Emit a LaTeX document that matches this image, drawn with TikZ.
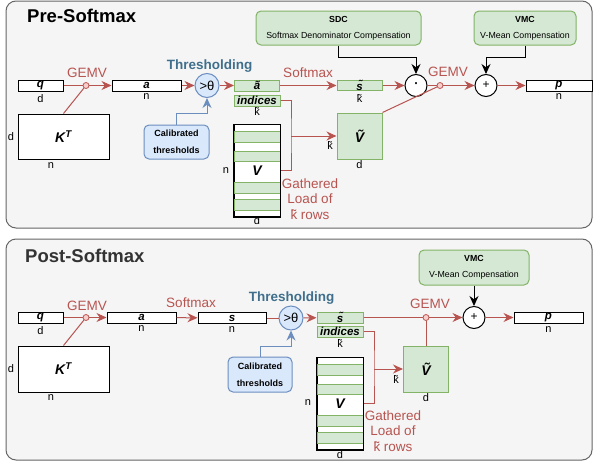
\documentclass[tikz,border=0pt]{standalone}
\usepackage{fontspec}
\setmainfont{Liberation Sans}
\usetikzlibrary{arrows.meta}
\definecolor{panelfill}{HTML}{F5F5F5}
\definecolor{paneldraw}{HTML}{666666}
\definecolor{gfill}{HTML}{D5E8D4}
\definecolor{gdraw}{HTML}{82B366}
\definecolor{bfill}{HTML}{DAE8FC}
\definecolor{bdraw}{HTML}{6C8EBF}
\definecolor{rline}{HTML}{B85450}
\definecolor{rfill}{HTML}{F8CECC}
\definecolor{thcol}{HTML}{3F6F8C}
\begin{document}
\begin{tikzpicture}[x=1pt, y=-1pt,
	panel/.style={draw=paneldraw, fill=panelfill, line width=1pt, rounded corners=10pt},
	vec/.style={draw, fill=white, line width=1pt, minimum height=11, inner sep=0pt, font=\fontsize{11.5}{12}\selectfont\bfseries\itshape},
	gvec/.style={vec, draw=gdraw, fill=gfill},
	mat/.style={draw, fill=white, line width=1pt, inner sep=0pt, font=\fontsize{14}{14}\selectfont\bfseries\itshape},
	gmat/.style={mat, draw=gdraw, fill=gfill},
	stripe/.style={draw=gdraw, fill=gfill, line width=1pt},
	op/.style={circle, draw, fill=white, line width=1pt, minimum size=22, inner sep=0pt, font=\fontsize{12}{12}\selectfont},
	thr/.style={circle, draw=bdraw, fill=bfill, line width=1pt, minimum size=24, inner sep=0pt, font=\fontsize{13}{13}\selectfont},
	junc/.style={circle, draw=rline, fill=rfill, line width=0.8pt, minimum size=6, inner sep=0pt},
	comp/.style={draw=gdraw, fill=gfill, line width=1pt, rounded corners=5pt, align=center, font=\fontsize{8.8}{16}\selectfont},
	calib/.style={draw=bdraw, fill=bfill, line width=1pt, rounded corners=5pt, align=center, font=\fontsize{9}{17}\selectfont\bfseries},
	dim/.style={inner sep=0pt, font=\fontsize{11}{11}\selectfont},
	oplabel/.style={inner sep=0pt, text=rline, font=\fontsize{13.5}{13.5}\selectfont},
	thlabel/.style={inner sep=0pt, text=thcol, font=\fontsize{13.5}{13.5}\selectfont\bfseries},
	gather/.style={inner sep=0pt, text=rline, align=center, font=\fontsize{13.5}{15.5}\selectfont},
	title/.style={anchor=west, inner sep=0pt, font=\fontsize{18.5}{20}\selectfont\bfseries},
	rl/.style={draw=rline, line width=1pt},
	ra/.style={rl, -{Stealth[length=10pt,width=9pt]}},
	ba/.style={draw=black, line width=1pt, -{Stealth[length=10pt,width=9pt]}},
	bla/.style={draw=bdraw, line width=1pt, -{Stealth[length=10pt,width=9pt]}}]
%	\draw[help lines, step=50] (0,0) grid (594,463);
	\useasboundingbox (0,0) rectangle (594,463);
	\draw[panel] (6,1) rectangle (592,228);
	\draw[panel] (6,239) rectangle (592,460);
	% Pre-Softmax
	\node[title] (pre-title) at (27,16) {Pre-Softmax};
	\node[vec, minimum width=45] (q1) at (40.5,85.5) {q};
	\node[dim] at (40.5,99) {d};
	\node[junc] (j1) at (86,85.5) {};
	\node[oplabel] (gemv1) at (87,73) {GEMV};
	\node[vec, minimum width=69] (a1) at (146.5,85.5) {a};
	\node[dim] at (146.5,97) {n};
	\node[mat, minimum width=91, minimum height=45] (KT1) at (63.5,136.5) {K\textsuperscript{T}};
	\node[dim] at (11,137) {d};
	\node[dim] at (51,166) {n};
	\node[thr] (th1) at (207,85.5) {>θ};
	\node[thlabel] (thlabel1) at (209.5,66) {Thresholding};
	\node[calib, minimum width=65, minimum height=34] (cal1) at (176.5,142) {Calibrated\\thresholds};
	\node[gvec, minimum width=45] (at1) at (257,85.5) {\~{a}};
	\node[gvec, minimum width=46] (ind1) at (257,100.5) {indices};
	\node[dim] at (257,112) {\~{k}};
	\node[oplabel] (smax1) at (308,73) {Softmax};
	\node[gvec, minimum width=45, minimum height=10] (st1) at (359.5,85.5) {\~{s}};
	\node[dim] at (359.5,99) {\~{k}};
	\node[gmat, minimum width=45, minimum height=46] (Vt1) at (359.5,136) {\~{V}};
	\node[dim] at (359.5,165) {d};
	\node[dim] at (330,146) {\~{k}};
	\node[mat, minimum width=46, minimum height=92] (V1) at (257,170.5) {V};
	\foreach \ya/\yb in {131/142, 151/161, 182/193, 199/210}
		\draw[stripe] (234,\ya) rectangle (280,\yb);
	\draw[line width=1pt] (V1.south west) rectangle (V1.north east);
	\node[dim] at (226,171) {n};
	\node[dim] at (257,221) {d};
	\node[gather] (gather1) at (310,199) {Gathered\\Load of\\\~{k} rows};
	\node[op, font=\fontsize{18}{18}\selectfont] (dot1) at (416,85.5) {·};
	\node[junc] (j2) at (440,85.5) {};
	\node[oplabel] (gemv2) at (448,72) {GEMV};
	\node[op] (plus1) at (486,85.5) {+};
	\node[vec, minimum width=66] (p1) at (559,85.5) {p};
	\node[dim] at (559,97) {n};
	\node[comp, minimum width=165, minimum height=34] (sdc1) at (338.5,28) {{\bfseries SDC}\\Softmax Denominator Compensation};
	\node[comp, minimum width=102, minimum height=34] (vmc1) at (525,28) {{\bfseries VMC}\\V-Mean Compensation};
	\coordinate (bus1) at (291,136);
	\draw[rl] (q1) -- (j1);
	\draw[ra] (j1) -- (a1);
	\draw[rl] (KT1.north) -- (j1);
	\draw[ra] (a1) -- (th1);
	\draw[bla] (cal1.north) -- ++(0,-11) -| (th1.south);
	\draw[ra] (th1) -- (at1);
	\draw[ra] (at1) -- (st1);
	\draw[ra] (st1) -- (dot1);
	\draw[rl] (ind1.east) -| (bus1) |- (V1.east);
	\draw[ra] (bus1) -- (Vt1.west);
	\draw[rl] (dot1) -- (j2);
	\draw[rl] (Vt1.north east) -- (j2);
	\draw[ra] (j2) -- (plus1);
	\draw[ra] (plus1) -- (p1);
	\draw[ba] (sdc1.south) -- ++(0,12) -| (dot1.north);
	\draw[ba] (vmc1.south) -- ++(0,12) -| (plus1.north);
	% Post-Softmax
	\node[title, text=black!80] (post-title) at (25,256) {Post-Softmax};
	\node[vec, minimum width=45] (q2) at (40.5,317.5) {q};
	\node[dim] at (40.5,331) {d};
	\node[junc] (j3) at (86,317.5) {};
	\node[oplabel] (gemv3) at (87,306) {GEMV};
	\node[vec, minimum width=69] (a2) at (141.5,317.5) {a};
	\node[dim] at (141.5,329) {n};
	\node[oplabel] (smax2) at (191,303) {Softmax};
	\node[vec, minimum width=68] (s2) at (232,318) {s};
	\node[dim] at (232,330) {n};
	\node[mat, minimum width=91, minimum height=46] (KT2) at (63.5,369) {K\textsuperscript{T}};
	\node[dim] at (11,369) {d};
	\node[dim] at (51,398) {n};
	\node[thr] (th2) at (291,318) {>θ};
	\node[thlabel] (thlabel2) at (291.5,298) {Thresholding};
	\node[calib, minimum width=64, minimum height=35] (cal2) at (260,374.5) {Calibrated\\thresholds};
	\node[gvec, minimum width=46] (st2) at (340,317.5) {\~{s}};
	\node[gvec, minimum width=46] (ind2) at (340,331.5) {indices};
	\node[dim] at (340,344) {\~{k}};
	\node[mat, minimum width=46, minimum height=92] (V2) at (340,403.5) {V};
	\foreach \ya/\yb in {131/142, 151/161, 182/193, 199/210}
		\draw[stripe] (317,\ya+233) rectangle (363,\yb+233);
	\draw[line width=1pt] (V2.south west) rectangle (V2.north east);
	\node[dim] at (308,403) {n};
	\node[dim] at (340,455) {d};
	\node[gather] (gather2) at (393,431) {Gathered\\Load of\\\~{k} rows};
	\node[gmat, minimum width=45, minimum height=46] (Vt2) at (426,369) {\~{V}};
	\node[dim] at (426,398) {d};
	\node[dim] at (396,380) {\~{k}};
	\node[junc] (j4) at (426,317.5) {};
	\node[oplabel] (gemv4) at (430,304) {GEMV};
	\node[op] (plus2) at (474,317.5) {+};
	\node[vec, minimum width=69] (p2) at (548.5,317.5) {p};
	\node[dim] at (548.5,330) {n};
	\node[comp, minimum width=110, minimum height=35] (vmc2) at (474,267.5) {{\bfseries VMC}\\V-Mean Compensation};
	\coordinate (bus2) at (374,369);
	\draw[rl] (q2) -- (j3);
	\draw[ra] (j3) -- (a2);
	\draw[rl] (KT2.north) -- (j3);
	\draw[ra] (a2) -- (s2);
	\draw[rl] (s2) -- (th2);
	\draw[bla] (cal2.north) -- ++(0,-10) -| (th2.south);
	\draw[ra] (th2) -- (st2);
	\draw[rl] (st2) -- (j4);
	\draw[rl] (Vt2.north) -- (j4);
	\draw[ra] (j4) -- (plus2);
	\draw[ra] (plus2) -- (p2);
	\draw[rl] (ind2.east) -| (bus2) |- (V2.east);
	\draw[ra] (bus2) -- (Vt2.west);
	\draw[ba] (vmc2.south) -- (plus2.north);
\end{tikzpicture}
\end{document}
